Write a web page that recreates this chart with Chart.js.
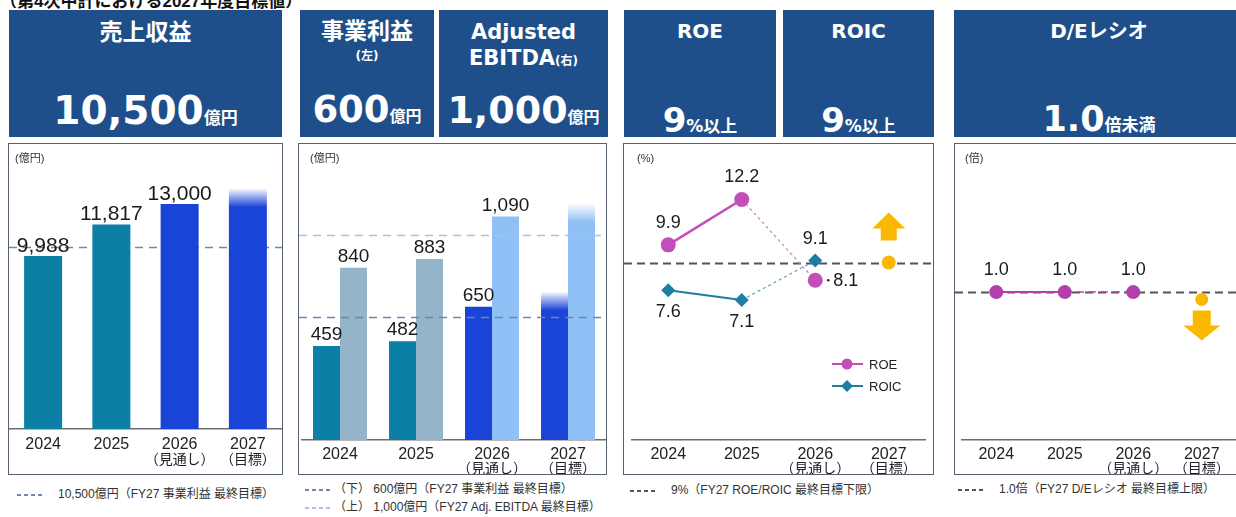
<!DOCTYPE html>
<html lang="ja">
<head>
<meta charset="utf-8">
<title>2027年度目標値</title>
<script src="https://cdn.jsdelivr.net/npm/chart.js@4.4.1/dist/chart.umd.min.js"></script>
<style>
body { margin: 0; width: 1236px; height: 517px; overflow: hidden; position: relative; background: #fff; font-family: "Liberation Sans", "Noto Sans CJK JP", sans-serif; color: #222; }
.title { position: absolute; left: 0; top: -7px; font: bold 17px/17px "Liberation Sans", "Noto Sans CJK JP", sans-serif; color: #111; white-space: nowrap; }
.hd { position: absolute; top: 10px; height: 127px; background: #1e4f8b; color: #fff; font-family: "DejaVu Sans", "Noto Sans CJK JP", sans-serif; font-weight: bold; }
.hd div { position: absolute; left: 0; width: 100%; text-align: center; white-space: nowrap; }
.hd .u { line-height: 1; }
.box { position: absolute; top: 143px; height: 330px; border: 1px solid #56626f; }
canvas { position: absolute; top: 144px; }
.unit { position: absolute; top: 151px; font-size: 11px; line-height: 14px; color: #333; }
.key { position: absolute; font-size: 12px; line-height: 16px; color: #333; white-space: nowrap; }
.key i { display: inline-block; width: 27px; height: 2px; vertical-align: middle; margin-right: 14px; }
</style>
</head>
<body>
<div class="title">（第4次中計における2027年度目標値）</div>

<div class="hd" style="left:9px;width:273px">
	<div style="top:7px;font-size:23px;line-height:30px">売上収益</div>
	<div style="top:79px;font-size:39px;line-height:44px">10,500<span class="u" style="font-size:17px">億円</span></div>
</div>
<div class="hd" style="left:300px;width:134px">
	<div style="top:6px;font-size:23px;line-height:30px">事業利益</div>
	<div style="top:38px;font-size:12px;line-height:16px">(左)</div>
	<div style="top:79px;font-size:37px;line-height:42px">600<span class="u" style="font-size:16px">億円</span></div>
</div>
<div class="hd" style="left:439px;width:169px">
	<div style="top:10px;font-size:21px;line-height:24px">Adjusted</div>
	<div style="top:36px;font-size:21px;line-height:24px">EBITDA<span class="u" style="font-size:12px">(右)</span></div>
	<div style="top:78px;font-size:38px;line-height:44px">1,000<span class="u" style="font-size:16px">億円</span></div>
</div>
<div class="hd" style="left:624px;width:152px">
	<div style="top:9px;font-size:20px;line-height:24px">ROE</div>
	<div style="top:91px;font-size:34px;line-height:38px">9<span class="u" style="font-size:17px">%以上</span></div>
</div>
<div class="hd" style="left:783px;width:151px">
	<div style="top:9px;font-size:20px;line-height:24px">ROIC</div>
	<div style="top:91px;font-size:34px;line-height:38px">9<span class="u" style="font-size:17px">%以上</span></div>
</div>
<div class="hd" style="left:954px;width:290px">
	<div style="top:9px;font-size:20px;line-height:24px">D/Eレシオ</div>
	<div style="top:89px;font-size:35px;line-height:40px">1.0<span class="u" style="font-size:17px">倍未満</span></div>
</div>

<div class="box" style="left:8px;width:273px"></div>
<div class="box" style="left:298px;width:307px"></div>
<div class="box" style="left:623px;width:309px"></div>
<div class="box" style="left:954px;width:288px"></div>

<canvas id="revenueChart" width="273" height="330" style="left:9px"></canvas>
<canvas id="profitChart" width="307" height="330" style="left:299px"></canvas>
<canvas id="returnChart" width="309" height="330" style="left:624px"></canvas>
<canvas id="leverageChart" width="288" height="330" style="left:955px"></canvas>

<div class="unit" style="left:15px">(億円)</div>
<div class="unit" style="left:310px">(億円)</div>
<div class="unit" style="left:637px">(%)</div>
<div class="unit" style="left:965px">(倍)</div>

<div class="key" style="left:17px;top:486px"><i style="background:repeating-linear-gradient(90deg,#6f86ad 0 4px,transparent 4px 7px)"></i>10,500億円（FY27 事業利益 最終目標）</div>
<div class="key" style="left:305px;top:481px"><i style="background:repeating-linear-gradient(90deg,#6f86ad 0 4px,transparent 4px 7px);margin-right:2px"></i>（下） 600億円（FY27 事業利益 最終目標）</div>
<div class="key" style="left:305px;top:499px"><i style="background:repeating-linear-gradient(90deg,#a9c3df 0 4px,transparent 4px 7px);margin-right:2px"></i>（上） 1,000億円（FY27 Adj. EBITDA 最終目標）</div>
<div class="key" style="left:630px;top:482px"><i style="background:repeating-linear-gradient(90deg,#555 0 4px,transparent 4px 7px)"></i>9%（FY27 ROE/ROIC 最終目標下限）</div>
<div class="key" style="left:958px;top:481px"><i style="background:repeating-linear-gradient(90deg,#555 0 4px,transparent 4px 7px)"></i>1.0倍（FY27 D/Eレシオ 最終目標上限）</div>

<script>
const years = ['2024', '2025', '2026', '2027'];
const yearNotes = ['', '', '（見通し）', '（目標）'];

// 売上収益 (億円)
const revenue = [9988, 11817, 13000, 13850];
const revenueTarget = 10500;

// 事業利益 / Adjusted EBITDA (億円)
const operatingProfit = [459, 482, 650, 720];
const adjustedEbitda = [840, 883, 1090, 1150];
const operatingProfitTarget = 600;
const ebitdaTarget = 1000;

// ROE / ROIC (%)
const roe = [9.9, 12.2, 8.1, null];
const roic = [7.6, 7.1, 9.1, null];
const returnTargetPoint = [null, null, null, 9];
const returnTarget = 9;

// D/Eレシオ (倍)
const deRatio = [1.0, 1.0, 1.0, null];
const deTargetPoint = [null, null, null, 0.95];
const deCap = 1.0;

const TEAL = '#0b7fa5';
const BLUE = '#1a43d8';
const GOLD = '#fbb800';

Chart.defaults.font.family = '"Liberation Sans", "Noto Sans CJK JP", sans-serif';
Chart.defaults.color = '#222';

function withAlpha(hex, a) {
	const n = parseInt(hex.slice(1), 16);
	return `rgba(${(n >> 16) & 255},${(n >> 8) & 255},${n & 255},${a})`;
}

// last bar (target year) fades out at the top
function fadeTop(colors) {
	return (ctx) => {
		const color = colors[ctx.dataIndex];
		if (ctx.dataIndex !== years.length - 1 || !ctx.chart.chartArea) return color;
		const top = ctx.chart.scales.y.getPixelForValue(ctx.raw);
		const g = ctx.chart.ctx.createLinearGradient(0, top, 0, top + 18);
		g.addColorStop(0, withAlpha(color, 0.06));
		g.addColorStop(1, color);
		return g;
	};
}

function drawTargetLines(chart, opts) {
	const { ctx } = chart;
	const y = chart.scales.y;
	ctx.save();
	opts.lines.forEach((line) => {
		const py = Math.round(y.getPixelForValue(line.value)) + 0.5;
		ctx.beginPath();
		ctx.setLineDash(line.dash);
		ctx.lineWidth = line.width;
		ctx.strokeStyle = line.color;
		ctx.moveTo(0, py);
		ctx.lineTo(chart.width, py);
		ctx.stroke();
	});
	ctx.restore();
}

const targetLines = {
	id: 'targetLines',
	beforeDatasetsDraw(chart, args, opts) {
		if (!opts.onTop) drawTargetLines(chart, opts);
	},
	afterDatasetsDraw(chart, args, opts) {
		if (opts.onTop) drawTargetLines(chart, opts);
	},
};

// second line under the year ticks
const tickNotes = {
	id: 'tickNotes',
	afterDraw(chart, args, opts) {
		const { ctx } = chart;
		const x = chart.scales.x;
		ctx.save();
		ctx.font = '14px "Noto Sans CJK JP", sans-serif';
		ctx.fillStyle = '#222';
		ctx.textAlign = 'center';
		ctx.textBaseline = 'middle';
		yearNotes.forEach((note, i) => {
			if (note) ctx.fillText(note, x.getPixelForTick(i), x.top + opts.offset);
		});
		ctx.restore();
	},
};

const valueLabels = {
	id: 'valueLabels',
	afterDatasetsDraw(chart, args, opts) {
		const { ctx } = chart;
		ctx.save();
		ctx.font = `${opts.size}px "Liberation Sans", sans-serif`;
		ctx.fillStyle = '#1a1a1a';
		chart.data.datasets.forEach((ds, di) => {
			if (!ds.labelAt) return;
			chart.getDatasetMeta(di).data.forEach((el, i) => {
				const where = ds.labelAt[i];
				const v = ds.data[i];
				if (!where || v == null) return;
				const text = opts.decimals ? v.toFixed(opts.decimals) : v.toLocaleString('en-US');
				ctx.textAlign = 'center';
				ctx.textBaseline = 'alphabetic';
				if (where === 'top') ctx.fillText(text, el.x, el.y - opts.gap);
				else if (where === 'above') ctx.fillText(text, el.x, el.y - 17);
				else if (where === 'below') ctx.fillText(text, el.x, el.y + 27);
				else if (where === 'right') {
					ctx.beginPath();
					ctx.arc(el.x + 13, el.y, 1.2, 0, Math.PI * 2);
					ctx.fill();
					ctx.textAlign = 'left';
					ctx.textBaseline = 'middle';
					ctx.fillText(text, el.x + 18, el.y + 1);
				}
			});
		});
		ctx.restore();
	},
};

const targetArrow = {
	id: 'targetArrow',
	afterDatasetsDraw(chart, args, opts) {
		const el = chart.getDatasetMeta(opts.dataset).data[years.length - 1];
		if (!el) return;
		const { ctx } = chart;
		const d = opts.direction === 'up' ? -1 : 1;
		const x = el.x;
		const base = el.y + d * opts.gap;
		const neck = base + d * opts.shaft;
		const tip = neck + d * opts.head;
		ctx.save();
		ctx.fillStyle = GOLD;
		ctx.beginPath();
		ctx.moveTo(x - opts.shaftWidth / 2, base);
		ctx.lineTo(x - opts.shaftWidth / 2, neck);
		ctx.lineTo(x - opts.headWidth / 2, neck);
		ctx.lineTo(x, tip);
		ctx.lineTo(x + opts.headWidth / 2, neck);
		ctx.lineTo(x + opts.shaftWidth / 2, neck);
		ctx.lineTo(x + opts.shaftWidth / 2, base);
		ctx.closePath();
		ctx.fill();
		ctx.restore();
	},
};

// small line+marker key inside the ROE/ROIC plot
const seriesKey = {
	id: 'seriesKey',
	afterDraw(chart, args, opts) {
		const { ctx } = chart;
		ctx.save();
		ctx.font = '13px "Liberation Sans", sans-serif';
		ctx.textBaseline = 'middle';
		opts.rows.forEach((y, i) => {
			const ds = chart.data.datasets[i];
			ctx.strokeStyle = ds.borderColor;
			ctx.fillStyle = ds.borderColor;
			ctx.lineWidth = 2;
			ctx.beginPath();
			ctx.moveTo(opts.x, y);
			ctx.lineTo(opts.x + 31, y);
			ctx.stroke();
			const cx = opts.x + 15;
			ctx.beginPath();
			if (ds.pointStyle === 'rectRot') {
				ctx.moveTo(cx, y - 6);
				ctx.lineTo(cx + 6, y);
				ctx.lineTo(cx, y + 6);
				ctx.lineTo(cx - 6, y);
				ctx.closePath();
			} else {
				ctx.arc(cx, y, 5.5, 0, Math.PI * 2);
			}
			ctx.fill();
			ctx.fillStyle = '#222';
			ctx.fillText(ds.label, opts.x + 37, y + 1);
		});
		ctx.restore();
	},
};

function xAxis(height, padding) {
	return {
		offset: true,
		grid: { display: false, drawTicks: false },
		border: { display: true, color: '#6e6e6e', width: 1.5 },
		ticks: { padding, font: { size: 16 }, color: '#222' },
		afterFit(scale) { scale.height = height; },
	};
}

const baseOptions = {
	animation: false,
	responsive: false,
	events: [],
};

new Chart(document.getElementById('revenueChart'), {
	type: 'bar',
	data: {
		labels: years,
		datasets: [{
			data: revenue,
			backgroundColor: fadeTop([TEAL, TEAL, BLUE, BLUE]),
			categoryPercentage: 1,
			barPercentage: 0.557,
			labelAt: ['top', 'top', 'top', null],
		}],
	},
	options: {
		...baseOptions,
		layout: { padding: { top: 8 } },
		scales: {
			x: xAxis(45, 6),
			y: { display: false, min: 0, max: 16000 },
		},
		plugins: {
			legend: { display: false },
			tooltip: { enabled: false },
			targetLines: { onTop: false, lines: [{ value: revenueTarget, color: '#6f86ad', dash: [8, 6], width: 1.5 }] },
			valueLabels: { size: 21, gap: 4 },
			tickNotes: { offset: 30 },
		},
	},
	plugins: [targetLines, valueLabels, tickNotes],
});

new Chart(document.getElementById('profitChart'), {
	type: 'bar',
	data: {
		labels: years,
		datasets: [
			{
				data: operatingProfit,
				backgroundColor: fadeTop([TEAL, TEAL, BLUE, BLUE]),
				categoryPercentage: 0.71,
				barPercentage: 1,
				labelAt: ['top', 'top', 'top', null],
			},
			{
				data: adjustedEbitda,
				backgroundColor: fadeTop(['#93b4c9', '#93b4c9', '#8fc0f6', '#8fc0f6']),
				categoryPercentage: 0.71,
				barPercentage: 1,
				labelAt: ['top', 'top', 'top', null],
			},
		],
	},
	options: {
		...baseOptions,
		layout: { padding: { top: 9, left: 3 } },
		scales: {
			x: xAxis(34, 5),
			y: { display: false, min: 0, max: 1400 },
		},
		plugins: {
			legend: { display: false },
			tooltip: { enabled: false },
			targetLines: {
				onTop: true,
				lines: [
					{ value: operatingProfitTarget, color: '#6f86ad', dash: [8, 6], width: 1.5 },
					{ value: ebitdaTarget, color: '#a9c3df', dash: [8, 6], width: 1.5 },
				],
			},
			valueLabels: { size: 19, gap: 6 },
			tickNotes: { offset: 28 },
		},
	},
	plugins: [targetLines, valueLabels, tickNotes],
});

const forecastSegment = (color) => ({
	borderDash: (ctx) => (ctx.p1DataIndex === 2 ? [3, 3] : undefined),
	borderWidth: (ctx) => (ctx.p1DataIndex === 2 ? 1.2 : undefined),
	borderColor: (ctx) => (ctx.p1DataIndex === 2 ? color : undefined),
});

new Chart(document.getElementById('returnChart'), {
	type: 'line',
	data: {
		labels: years,
		datasets: [
			{
				label: 'ROE',
				data: roe,
				borderColor: '#c44db9',
				backgroundColor: '#c44db9',
				borderWidth: 2.5,
				pointStyle: 'circle',
				pointRadius: 7.5,
				pointBorderWidth: 0,
				segment: forecastSegment('#d07fc8'),
				labelAt: ['above', 'above', 'right', null],
			},
			{
				label: 'ROIC',
				data: roic,
				borderColor: '#1c7ea2',
				backgroundColor: '#1c7ea2',
				borderWidth: 2,
				pointStyle: 'rectRot',
				pointRadius: 7,
				pointBorderWidth: 0,
				segment: forecastSegment('#5f9fb8'),
				labelAt: ['below', 'below', 'above', null],
			},
			{
				data: returnTargetPoint,
				showLine: false,
				backgroundColor: GOLD,
				pointRadius: 7,
				pointBorderWidth: 0,
			},
		],
	},
	options: {
		...baseOptions,
		layout: { padding: { top: 20 } },
		scales: {
			x: xAxis(34, 5),
			y: { display: false, min: 0, max: 14 },
		},
		plugins: {
			legend: { display: false },
			tooltip: { enabled: false },
			targetLines: { onTop: false, lines: [{ value: returnTarget, color: '#555', dash: [8, 5], width: 1.8 }] },
			valueLabels: { size: 18, decimals: 1 },
			tickNotes: { offset: 28 },
			targetArrow: { dataset: 2, direction: 'up', gap: 22, shaft: 12, head: 16, shaftWidth: 16, headWidth: 33 },
			seriesKey: { x: 208, rows: [220, 242] },
		},
	},
	plugins: [targetLines, valueLabels, tickNotes, targetArrow, seriesKey],
});

new Chart(document.getElementById('leverageChart'), {
	type: 'line',
	data: {
		labels: years,
		datasets: [
			{
				data: deRatio,
				borderColor: '#b43fab',
				backgroundColor: '#b43fab',
				borderWidth: 2,
				pointRadius: 7,
				pointBorderWidth: 0,
				segment: {
					borderDash: (ctx) => (ctx.p1DataIndex === 2 ? [7, 5] : undefined),
					borderWidth: (ctx) => (ctx.p1DataIndex === 2 ? 1.5 : undefined),
				},
				labelAt: ['above', 'above', 'above', null],
			},
			{
				data: deTargetPoint,
				showLine: false,
				backgroundColor: GOLD,
				pointRadius: 6.5,
				pointBorderWidth: 0,
			},
		],
	},
	options: {
		...baseOptions,
		layout: { padding: { top: 15 } },
		scales: {
			x: xAxis(34, 5),
			y: { display: false, min: 0, max: 1.9 },
		},
		plugins: {
			legend: { display: false },
			tooltip: { enabled: false },
			targetLines: { onTop: false, lines: [{ value: deCap, color: '#555', dash: [8, 5], width: 1.8 }] },
			valueLabels: { size: 18, decimals: 1 },
			tickNotes: { offset: 28 },
			targetArrow: { dataset: 1, direction: 'down', gap: 11, shaft: 15, head: 15, shaftWidth: 18, headWidth: 37 },
		},
	},
	plugins: [targetLines, valueLabels, tickNotes, targetArrow],
});
</script>
</body>
</html>
